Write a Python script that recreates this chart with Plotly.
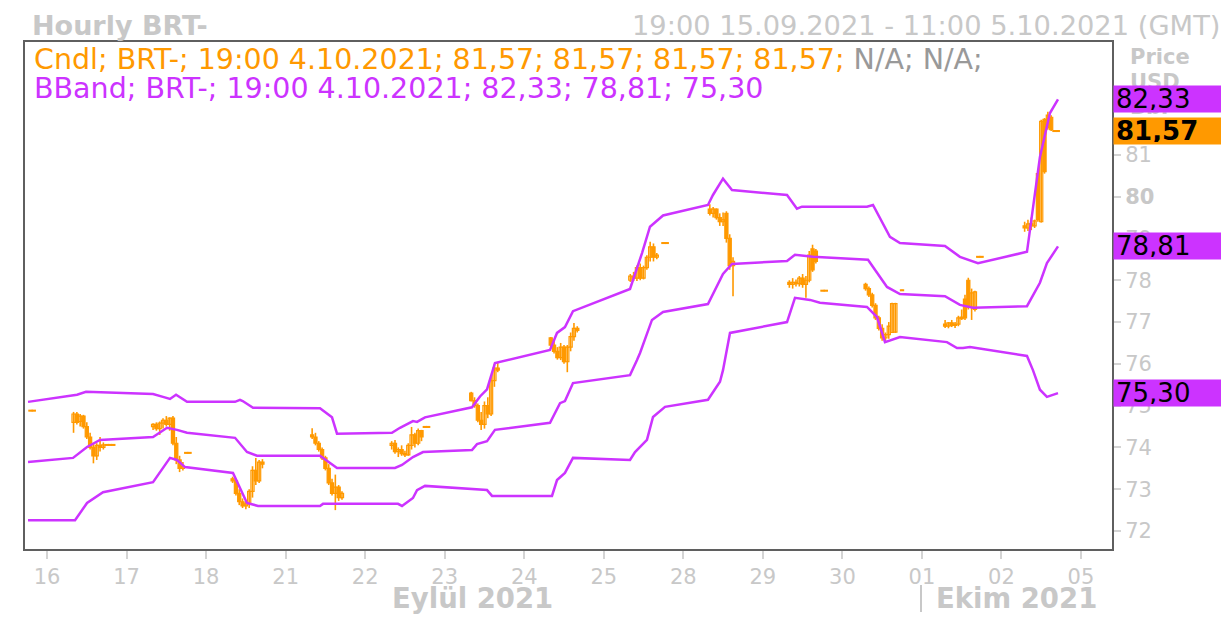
import plotly.graph_objects as go

# ---------------- data ----------------
day_labels = ["16", "17", "18", "21", "22", "23", "24", "25", "28", "29", "30", "01", "02", "05"]
price_ticks = [72, 73, 74, 75, 76, 77, 78, 79, 80, 81]
price_tick_text = ["72", "73", "74", "75", "76", "77", "78", "79", "<b>80</b>", "81"]

# hourly candles: trading-session index (0 = "16") and hour of the session
cndl_day = [
    -1, -1,
    0, 0, 0, 0, 0, 0, 0, 0, 0, 0, 0, 0, 0,
    1, 1, 1, 1, 1, 1, 1, 1, 1, 1, 1, 1,
    2, 2, 2, 2, 2, 2, 2, 2, 2, 2,
    3, 3, 3, 3, 3, 3, 3, 3, 3, 3,
    4, 4, 4, 4, 4, 4, 4, 4, 4, 4, 4, 4,
    5, 5, 5, 5, 5, 5, 5, 5, 5,
    6, 6, 6, 6, 6, 6, 6, 6, 6,
    7, 7, 7, 7, 7, 7, 7, 7, 7, 7, 7,
    8, 8, 8, 8, 8, 8, 8, 8,
    9, 9, 9, 9, 9, 9, 9, 9, 9, 9, 9,
    10, 10, 10, 10, 10, 10, 10, 10, 10, 10, 10,
    11, 11, 11, 11, 11, 11, 11, 11, 11, 11, 11, 11,
    12, 12, 12, 12, 12, 12, 12, 12, 12, 12, 12,
]
cndl_hour = [
    19, 20,
    8, 9, 10, 11, 12, 13, 14, 15, 16, 17, 18, 19, 20,
    8, 9, 10, 11, 12, 13, 14, 15, 16, 17, 18, 19,
    8, 9, 10, 11, 12, 13, 14, 15, 16, 17,
    8, 9, 10, 11, 12, 13, 14, 15, 16, 17,
    8, 9, 10, 11, 12, 13, 14, 15, 16, 17, 18, 19,
    8, 9, 10, 11, 12, 13, 14, 15, 16,
    8, 9, 10, 11, 12, 13, 14, 15, 16,
    8, 9, 10, 11, 12, 13, 14, 15, 16, 18, 19,
    8, 9, 10, 11, 12, 13, 14, 15,
    8, 9, 10, 11, 12, 13, 14, 15, 16, 18, 19,
    7, 8, 9, 10, 11, 12, 13, 14, 15, 16, 18,
    7, 8, 9, 10, 11, 12, 13, 14, 15, 16, 17, 18,
    7, 8, 9, 10, 11, 12, 13, 14, 15, 16, 17,
]
cndl_open = [
    74.89, 74.89,
    74.60, 74.80, 74.62, 74.75, 74.50, 74.25, 74.00, 73.80, 74.05, 74.00, 74.07, 74.07, 74.07,
    74.50, 74.55, 74.45, 74.58, 74.65, 74.55, 74.70, 74.10, 73.70, 73.50, 73.88, 73.88,
    73.25, 73.20, 72.90, 72.70, 72.60, 72.65, 72.95, 73.45, 73.20, 73.65,
    74.30, 74.25, 74.10, 73.95, 73.75, 73.50, 73.15, 72.90, 73.05, 72.80,
    74.05, 74.10, 73.90, 73.95, 73.85, 73.82, 74.05, 74.30, 74.10, 74.40, 74.50, 74.50,
    75.30, 75.12, 75.00, 74.65, 74.55, 75.00, 74.80, 75.60, 75.90,
    76.62, 76.45, 76.30, 76.15, 76.40, 76.05, 76.40, 76.65, 76.85,
    78.00, 78.10, 78.05, 78.30, 78.05, 78.30, 78.55, 78.80, 78.55, 78.90, 78.90,
    79.70, 79.60, 79.70, 79.50, 79.40, 79.60, 79.00, 78.35,
    77.95, 77.90, 77.95, 77.92, 78.05, 77.90, 78.00, 78.75, 78.70, 77.76, 77.76,
    77.90, 77.80, 77.65, 77.40, 77.10, 76.85, 76.62, 76.70, 76.75, 76.76, 77.77,
    76.95, 76.90, 76.98, 76.92, 76.95, 77.12, 77.55, 78.00, 77.35, 77.30, 78.57, 78.57,
    79.30, 79.25, 79.35, 79.30, 80.55, 79.40, 81.85, 81.95, 81.90, 81.58, 81.58,
]
cndl_high = [
    74.89, 74.89,
    74.85, 74.85, 74.80, 74.78, 74.60, 74.35, 74.10, 74.10, 74.25, 74.12, 74.07, 74.07, 74.07,
    74.58, 74.60, 74.62, 74.70, 74.75, 74.72, 74.75, 74.25, 73.80, 73.65, 73.88, 73.88,
    73.30, 73.22, 73.00, 72.78, 72.70, 73.00, 73.55, 73.75, 73.70, 73.72,
    74.46, 74.35, 74.15, 74.00, 73.80, 73.60, 73.25, 73.35, 73.10, 72.95,
    74.15, 74.18, 74.00, 74.05, 73.92, 74.10, 74.49, 74.35, 74.45, 74.42, 74.50, 74.50,
    75.33, 75.20, 75.05, 74.85, 75.10, 75.20, 75.70, 76.00, 76.02,
    76.64, 76.55, 76.40, 76.50, 76.45, 76.45, 76.75, 76.98, 76.90,
    78.15, 78.20, 78.35, 78.40, 78.35, 78.60, 78.92, 78.88, 78.65, 78.90, 78.90,
    79.82, 79.75, 79.72, 79.60, 79.62, 79.65, 79.10, 78.55,
    78.00, 78.05, 78.02, 78.10, 78.15, 78.10, 78.70, 78.85, 78.75, 77.76, 77.76,
    77.94, 77.85, 77.70, 77.45, 77.15, 76.95, 76.75, 77.00, 77.46, 77.46, 77.77,
    77.05, 77.00, 77.05, 77.00, 77.15, 77.30, 77.65, 78.06, 77.80, 77.75, 78.57, 78.57,
    79.40, 79.45, 79.50, 79.45, 80.57, 81.84, 81.88, 82.03, 81.95, 81.58, 81.58,
]
cndl_low = [
    74.87, 74.87,
    74.35, 74.55, 74.50, 74.45, 74.20, 73.95, 73.62, 73.70, 73.90, 73.95, 74.05, 74.05, 74.05,
    74.42, 74.40, 74.30, 74.45, 74.50, 74.40, 74.05, 73.60, 73.41, 73.45, 73.86, 73.86,
    73.15, 72.85, 72.62, 72.55, 72.52, 72.55, 72.80, 73.10, 73.15, 73.50,
    74.20, 74.05, 73.90, 73.70, 73.45, 73.10, 72.85, 72.50, 72.72, 72.75,
    73.95, 73.85, 73.77, 73.80, 73.77, 73.80, 73.95, 74.00, 74.05, 74.15, 74.48, 74.48,
    75.10, 74.95, 74.60, 74.42, 74.45, 74.70, 74.75, 75.45, 75.80,
    76.40, 76.25, 76.10, 76.09, 76.00, 75.80, 76.30, 76.55, 76.75,
    77.96, 77.98, 77.98, 78.00, 78.02, 78.25, 78.45, 78.45, 78.50, 78.88, 78.88,
    79.55, 79.50, 79.45, 79.30, 79.30, 78.90, 78.25, 77.62,
    77.82, 77.80, 77.85, 77.85, 77.82, 77.58, 77.95, 78.20, 78.40, 77.74, 77.74,
    77.75, 77.60, 77.35, 77.05, 76.80, 76.55, 76.50, 76.60, 76.74, 76.74, 77.75,
    76.86, 76.85, 76.88, 76.86, 76.90, 77.05, 77.05, 77.30, 77.05, 77.25, 78.55, 78.55,
    79.16, 79.18, 79.20, 79.25, 79.40, 79.38, 80.55, 81.60, 81.57, 81.56, 81.56,
]
cndl_close = [
    74.87, 74.87,
    74.80, 74.60, 74.75, 74.50, 74.25, 74.00, 73.80, 74.05, 74.00, 74.06, 74.05, 74.05, 74.05,
    74.55, 74.45, 74.58, 74.65, 74.55, 74.70, 74.10, 73.70, 73.50, 73.55, 73.86, 73.86,
    73.20, 72.90, 72.70, 72.60, 72.65, 72.95, 73.45, 73.20, 73.65, 73.60,
    74.25, 74.10, 73.95, 73.75, 73.50, 73.15, 72.90, 73.05, 72.80, 72.90,
    74.10, 73.90, 73.95, 73.85, 73.82, 74.05, 74.30, 74.10, 74.40, 74.25, 74.48, 74.48,
    75.12, 75.00, 74.65, 74.55, 75.00, 74.80, 75.60, 75.90, 75.85,
    76.45, 76.30, 76.15, 76.40, 76.05, 76.40, 76.65, 76.85, 76.80,
    78.10, 78.05, 78.30, 78.05, 78.30, 78.55, 78.80, 78.55, 78.60, 78.88, 78.88,
    79.60, 79.70, 79.50, 79.40, 79.45, 79.00, 78.35, 78.45,
    77.90, 77.95, 77.92, 78.05, 77.90, 78.00, 78.60, 78.25, 78.45, 77.74, 77.74,
    77.80, 77.65, 77.40, 77.10, 76.85, 76.62, 76.70, 76.90, 77.44, 77.44, 77.75,
    76.90, 76.98, 76.92, 76.95, 77.10, 77.08, 77.10, 77.35, 77.70, 77.72, 78.55, 78.55,
    79.25, 79.35, 79.30, 79.42, 79.45, 81.80, 80.60, 81.65, 81.60, 81.56, 81.56,
]

# Bollinger band vertices: session position (day index + fraction) and value
upper_t = [-0.239, 0.377, 0.490, 1.333, 1.458, 1.546, 1.622, 1.760, 2.364, 2.426, 2.460, 2.590,
           3.432, 3.583, 3.646, 4.337, 4.438, 4.601, 4.652, 4.752, 5.343, 5.444, 5.532, 5.632,
           6.324, 6.412, 6.512, 6.613, 7.330, 7.481, 7.581, 7.745, 8.310, 8.373, 8.499, 8.612,
           9.304, 9.429, 9.492, 10.309, 10.385, 10.598, 10.724, 11.290, 11.478, 11.705, 12.321,
           12.484, 12.610, 12.711]
upper_v = [75.09, 75.26, 75.33, 75.28, 75.21, 75.16, 75.26, 75.09, 75.09, 75.14, 75.11, 74.95,
           74.94, 74.72, 74.33, 74.35, 74.47, 74.63, 74.61, 74.72, 74.96, 75.22, 75.39, 76.02,
           76.33, 76.74, 76.88, 77.26, 77.79, 78.65, 79.28, 79.55, 79.80, 80.04, 80.43, 80.16,
           80.04, 79.71, 79.76, 79.76, 79.80, 79.04, 78.89, 78.82, 78.56, 78.41, 78.68,
           80.95, 82.00, 82.33]
middle_t = [-0.239, 0.327, 0.503, 0.666, 1.333, 1.509, 1.634, 1.760, 2.364, 2.514, 2.640, 3.432,
            3.646, 4.375, 4.463, 4.601, 4.727, 5.343, 5.406, 5.532, 5.632, 6.324, 6.450, 6.512,
            6.613, 7.330, 7.418, 7.456, 7.606, 7.745, 8.310, 8.361, 8.499, 8.612, 9.304, 9.404,
            9.630, 10.322, 10.561, 10.724, 11.290, 11.478, 11.642, 12.321, 12.484, 12.572, 12.711]
middle_v = [73.65, 73.75, 74.01, 74.18, 74.25, 74.47, 74.42, 74.35, 74.23, 73.89, 73.80, 73.80,
            73.51, 73.51, 73.58, 73.77, 73.89, 73.94, 74.08, 74.15, 74.42, 74.59, 75.06, 75.11,
            75.54, 75.73, 76.09, 76.26, 77.05, 77.24, 77.43, 77.62, 78.15, 78.39, 78.46, 78.61,
            78.56, 78.49, 77.84, 77.67, 77.62, 77.41, 77.34, 77.38, 77.94, 78.41, 78.81]
lower_t = [-0.239, 0.352, 0.503, 0.704, 1.333, 1.546, 1.634, 1.735, 2.338, 2.514, 2.653, 3.432,
           3.470, 4.413, 4.463, 4.601, 4.652, 4.752, 5.532, 5.595, 6.349, 6.412, 6.512, 6.613,
           7.330, 7.393, 7.543, 7.619, 7.770, 8.310, 8.461, 8.499, 8.587, 9.304, 9.404, 9.593,
           9.718, 10.309, 10.435, 10.536, 10.724, 11.315, 11.441, 11.516, 11.604, 12.321, 12.396,
           12.484, 12.572, 12.711]
lower_v = [72.26, 72.26, 72.67, 72.93, 73.17, 73.75, 73.70, 73.53, 73.39, 72.67, 72.60, 72.60,
           72.65, 72.65, 72.60, 72.79, 72.98, 73.08, 72.98, 72.84, 72.84, 73.22, 73.39, 73.75,
           73.70, 73.89, 74.18, 74.73, 74.97, 75.14, 75.57, 75.85, 76.74, 77.00, 77.58, 77.53,
           77.46, 77.36, 77.12, 76.52, 76.64, 76.52, 76.38, 76.38, 76.40, 76.19, 75.85,
           75.38, 75.21, 75.30]

last_close = 81.57
last_upper, last_middle, last_lower = 82.33, 78.81, 75.30

n = len(cndl_day)
assert all(len(a) == n for a in (cndl_hour, cndl_open, cndl_high, cndl_low, cndl_close))
assert len(upper_t) == len(upper_v) and len(middle_t) == len(middle_v) and len(lower_t) == len(lower_v)

# ---------------- styling ----------------
ORANGE = "#ff9900"
PURPLE = "#cc33ff"
GREY = "#c8c8c8"
FONT = "DejaVu Sans"

cndl_x = [d + h / 24 for d, h in zip(cndl_day, cndl_hour)]

fig = go.Figure()

# wicks
wx, wy = [], []
for x, lo, hi in zip(cndl_x, cndl_low, cndl_high):
    wx += [x, x, None]
    wy += [lo, hi, None]
fig.add_trace(go.Scatter(x=wx, y=wy, mode="lines", line=dict(color=ORANGE, width=1.6),
                         hoverinfo="skip"))

# bodies (hollow = up, filled = down)
MIN_BODY = 0.02
for up in (True, False):
    bx, bb, bh = [], [], []
    for x, o, c in zip(cndl_x, cndl_open, cndl_close):
        if (c > o) == up:
            bx.append(x)
            bb.append(min(o, c))
            bh.append(max(abs(c - o), MIN_BODY))
    fig.add_trace(go.Bar(
        x=bx, y=bh, base=bb, width=0.95 / 24,
        marker=dict(color="white" if up else ORANGE, line=dict(color=ORANGE, width=1.2)),
        hoverinfo="skip"))

for t, v in [(upper_t, upper_v), (middle_t, middle_v), (lower_t, lower_v)]:
    fig.add_trace(go.Scatter(x=t, y=v, mode="lines",
                             line=dict(color=PURPLE, width=2.5), hoverinfo="skip"))

# The page body has an 8px margin: the figure is laid out in window pixels minus 8.
OFF = 8
W, H = 1229 - OFF, 620 - OFF
L, R, T, B = 25 - OFF, 117, 42 - OFF, 71
PW, PH = W - L - R, H - T - B


def px_x(px):  # window pixel -> paper x
    return (px - OFF - L) / PW


def px_y(py):  # window pixel -> paper y
    return (H - B - (py - OFF)) / PH


fig.update_layout(
    width=W, height=H,
    margin=dict(l=L, r=R, t=T, b=B, pad=0),
    paper_bgcolor="white", plot_bgcolor="white",
    showlegend=False, barmode="overlay",
    font=dict(family=FONT, color=GREY),
)
fig.update_xaxes(
    range=[-0.277, 13.39],
    tickvals=list(range(len(day_labels))), ticktext=day_labels,
    showgrid=False, zeroline=False,
    showline=True, linecolor="#5f5f5f", linewidth=2, mirror=True,
    ticks="outside", ticklen=8, tickwidth=2, tickcolor="#d4d4d4",
    tickfont=dict(size=21, color=GREY, family=FONT),
)
fig.update_yaxes(
    side="right", range=[71.57, 83.70],
    tickvals=price_ticks, ticktext=price_tick_text,
    showgrid=False, zeroline=False,
    showline=True, linecolor="#5f5f5f", linewidth=2, mirror=True,
    ticks="outside", ticklen=7, tickwidth=2, tickcolor="#d4d4d4",
    tickfont=dict(size=21, color=GREY, family=FONT),
)

ann = []
ann.append(dict(text="<b>Hourly BRT-</b>", x=px_x(30), y=px_y(8), xref="paper", yref="paper",
                xanchor="left", yanchor="top", showarrow=False,
                font=dict(size=27, color=GREY, family=FONT)))
ann.append(dict(text="19:00 15.09.2021 - 11:00 5.10.2021 (GMT)", x=px_x(1222), y=px_y(8),
                xref="paper", yref="paper", xanchor="right", yanchor="top", showarrow=False,
                font=dict(size=27.3, color=GREY, family=FONT)))
vals = "; ".join(f"{last_close:.2f}".replace(".", ",") for _ in range(4))
ann.append(dict(
    text=(f'<span style="color:{ORANGE}">Cndl; BRT-; 19:00 4.10.2021; {vals};</span>'
          f'<span style="color:#999999"> N/A; N/A;</span>'),
    x=px_x(32), y=px_y(60), xref="paper", yref="paper", xanchor="left", yanchor="middle",
    showarrow=False, font=dict(size=28.5, family=FONT)))
bvals = "; ".join(f"{v:.2f}".replace(".", ",") for v in (last_upper, last_middle, last_lower))
ann.append(dict(
    text=f"BBand; BRT-; 19:00 4.10.2021; {bvals}",
    x=px_x(32), y=px_y(88), xref="paper", yref="paper", xanchor="left", yanchor="middle",
    showarrow=False, font=dict(size=28.5, color=PURPLE, family=FONT)))
for txt, py in [("Price", 57), ("USD", 82), ("Bbl", 107)]:
    ann.append(dict(text=f"<b>{txt}</b>", x=px_x(1128), y=px_y(py), xref="paper", yref="paper",
                    xanchor="left", yanchor="middle", showarrow=False,
                    font=dict(size=21, color=GREY, family=FONT)))
ann.append(dict(text="<b>Eylül 2021</b>", x=px_x(472), y=px_y(598), xref="paper", yref="paper",
                xanchor="center", yanchor="middle", showarrow=False,
                font=dict(size=27.5, color=GREY, family=FONT)))
ann.append(dict(text="<b>Ekim 2021</b>", x=px_x(934), y=px_y(598), xref="paper", yref="paper",
                xanchor="left", yanchor="middle", showarrow=False,
                font=dict(size=27.5, color=GREY, family=FONT)))
for val, col, bold in [(last_upper, PURPLE, False), (last_close, ORANGE, True),
                       (last_middle, PURPLE, False), (last_lower, PURPLE, False)]:
    s = f"{val:.2f}".replace(".", ",")
    if bold:
        s = f"<b>{s}</b>"
    ann.append(dict(text=s, x=1, xshift=1, y=val, xref="paper", yref="y",
                    xanchor="left", yanchor="middle", showarrow=False, align="left",
                    bgcolor=col, width=108, height=22, borderpad=2,
                    font=dict(size=26, color="black", family=FONT)))
fig.update_layout(annotations=ann)

fig.update_layout(shapes=[
    dict(type="line", xref="paper", yref="paper", x0=px_x(1226), x1=px_x(1226),
         y0=px_y(640), y1=px_y(0), line=dict(color="#c0c0c0", width=2)),
    dict(type="line", xref="paper", yref="paper", x0=px_x(921), x1=px_x(921),
         y0=px_y(585), y1=px_y(612), line=dict(color=GREY, width=2)),
])

fig.write_html("out.html")
